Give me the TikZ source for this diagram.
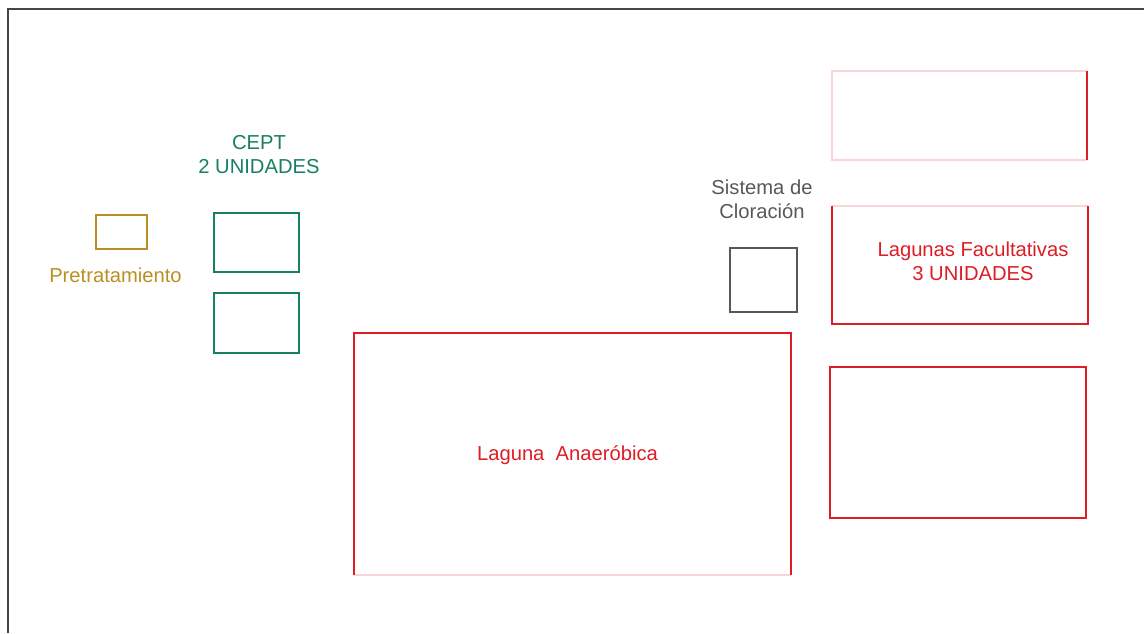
\documentclass[tikz,border=0pt]{standalone}
\usepackage{fontspec}
\setmainfont{Liberation Sans}
\begin{document}
\definecolor{lagred}{RGB}{222,28,38}
\definecolor{lagfaint}{RGB}{250,212,214}
\definecolor{ceptgreen}{RGB}{24,128,98}
\definecolor{pregold}{RGB}{184,144,36}
\definecolor{clorgray}{RGB}{88,88,88}
\definecolor{framegray}{RGB}{70,70,70}
\begin{tikzpicture}[x=1pt,y=-1pt,
  unit/.style={rectangle, inner sep=0pt, outer sep=0pt, line width=1.6pt},
  tag/.style={inner sep=0pt, align=center, font=\fontsize{20.2}{24}\selectfont},
  frameline/.style={draw=framegray, line width=2pt},
  faintedge/.style={draw=lagfaint, line width=1.6pt},
  rededge/.style={draw=lagred, line width=1.6pt}]
\useasboundingbox (0,0) rectangle (1144,633);
% sheet frame (left and top edges)
\coordinate (fbl) at (8,633);
\coordinate (ftl) at (8,9);
\coordinate (ftr) at (1144,9);
\draw[frameline] (fbl) -- (ftl) -- (ftr);

% pretreatment
\node[unit, draw=pregold, minimum width=51pt, minimum height=34pt] (pre) at (121.5,232) {};
\node[tag, text=pregold] (prelbl) at (115.5,275) {Pretratamiento};

% CEPT units
\node[tag, text=ceptgreen] (ceptlbl) at (259,155) {CEPT\\2 UNIDADES};
\node[unit, draw=ceptgreen, minimum width=85pt, minimum height=59pt] (cept1) at (256.5,242.5) {};
\node[unit, draw=ceptgreen, minimum width=85pt, minimum height=60pt] (cept2) at (256.5,323) {};

% chlorination
\node[tag, text=clorgray] (clorlbl) at (762,199) {Sistema de\\Cloración};
\node[unit, draw=clorgray, line width=1.3pt, minimum width=67pt, minimum height=64pt] (clor) at (763.5,280) {};

% anaerobic lagoon
\node[unit, minimum width=437pt, minimum height=242pt] (anae) at (572.5,454) {};
\draw[faintedge] (anae.south west) -- (anae.south east);
\draw[rededge] (anae.south west) -- (anae.north west) -- (anae.north east) -- (anae.south east);
\node[tag, text=lagred] (anaelbl) at (567.5,455) {Laguna\ \ Anaeróbica};

% facultative lagoons
\node[unit, minimum width=255pt, minimum height=89pt] (fac1) at (959.5,115.5) {};
\draw[faintedge] (fac1.north east) -- (fac1.north west) -- (fac1.south west) -- (fac1.south east);
\draw[rededge] (fac1.north east) -- (fac1.south east);

\node[unit, minimum width=256pt, minimum height=118pt] (fac2) at (960,265) {};
\draw[faintedge] (fac2.north west) -- (fac2.north east);
\draw[rededge] (fac2.north west) -- (fac2.south west) -- (fac2.south east) -- (fac2.north east);
\node[tag, text=lagred] (faclbl) at (973,261.5) {Lagunas Facultativas\\3 UNIDADES};

\node[unit, draw=lagred, minimum width=256pt, minimum height=151pt] (fac3) at (958,442.5) {};
\end{tikzpicture}
\end{document}
